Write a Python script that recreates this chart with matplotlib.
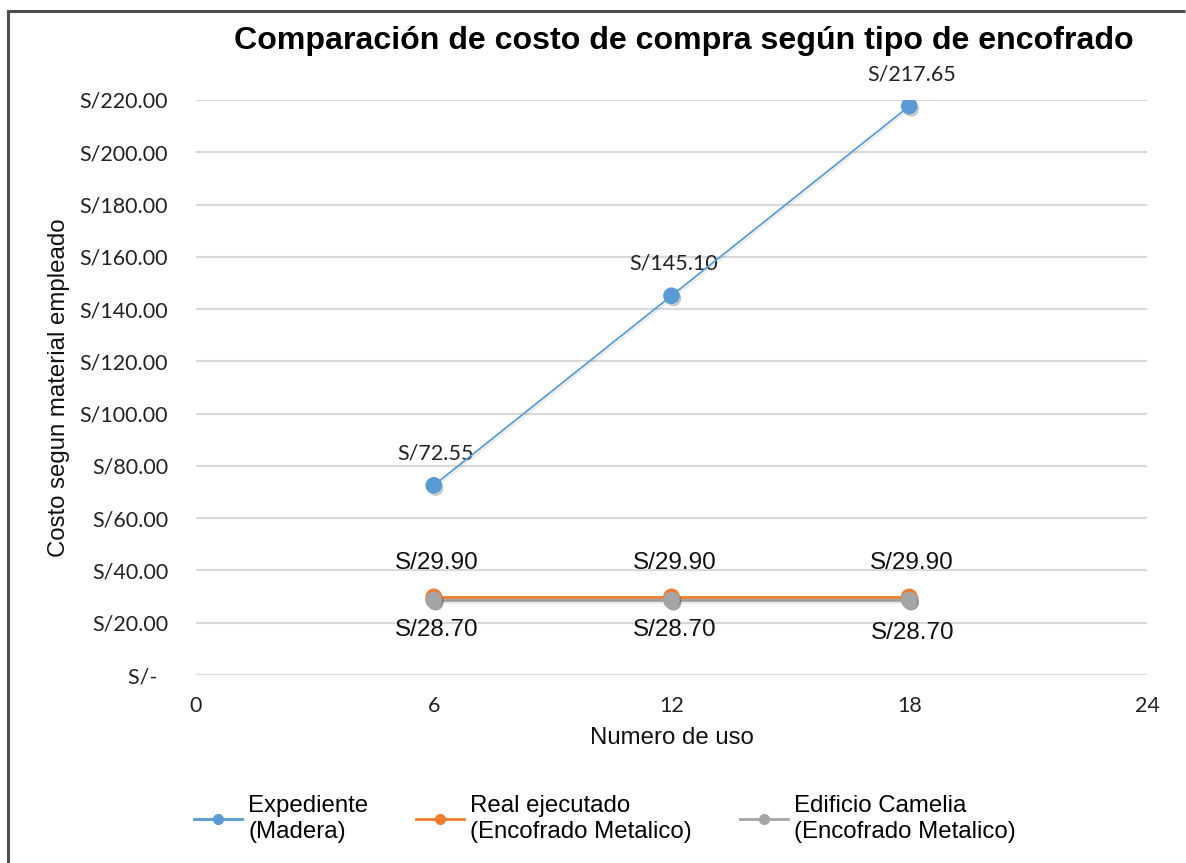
import matplotlib
matplotlib.use("Agg")
import matplotlib.pyplot as plt
import matplotlib.patheffects as pe
from matplotlib.lines import Line2D
from matplotlib.ticker import FuncFormatter, FixedLocator

# Data
usos = [6, 12, 18]
expediente_madera = [72.55, 145.10, 217.65]
real_ejecutado = [29.90, 29.90, 29.90]
edificio_camelia = [28.70, 28.70, 28.70]

series_labels = ["Expediente\n(Madera)",
                 "Real ejecutado\n(Encofrado Metalico)",
                 "Edificio Camelia\n(Encofrado Metalico)"]
x_ticks = [0, 6, 12, 18, 24]
y_ticks = [0, 20, 40, 60, 80, 100, 120, 140, 160, 180, 200, 220]

title = "Comparación de costo de compra según tipo de encofrado"
x_label = "Numero de uso"
y_label = "Costo segun material empleado"

BLUE = "#5B9BD5"
ORANGE = "#ED7D31"
GRAY = "#A5A5A5"
ARIAL = "Liberation Sans"
CAL = "Lato"

W, H = 1186, 863
fig = plt.figure(figsize=(W / 100, H / 100), dpi=100)
fig.patch.set_facecolor("white")
fig.patch.set_linewidth(0)

# outer frame of the chart area: left and top edges
frame_x, frame_y = 8 / W, 1 - 11 / H
fig.add_artist(Line2D([frame_x, frame_x, 0.999], [0.0, frame_y, frame_y],
                      transform=fig.transFigure, color="#4d4d4d", linewidth=2.2,
                      solid_joinstyle="miter", solid_capstyle="butt"))

ax = fig.add_axes([196 / W, 1 - 675 / H, (1147 - 196) / W, (675 - 100) / H])
ax.set_xlim(0, 24)
ax.set_ylim(0, 220)
ax.xaxis.set_major_locator(FixedLocator(x_ticks))
ax.yaxis.set_major_locator(FixedLocator(y_ticks))
for s in ax.spines.values():
    s.set_visible(False)
ax.grid(axis="y", color="#d9d9d9", linewidth=1.5)
ax.set_axisbelow(True)
ax.tick_params(axis="both", length=0)
ax.tick_params(axis="y", pad=20)
ax.tick_params(axis="x", pad=15)


def money(v, _pos=None):
    if v == 0:
        return "S/-  "
    return f"S/{v:.2f}"


ax.yaxis.set_major_formatter(FuncFormatter(money))
for lab in ax.get_yticklabels() + ax.get_xticklabels():
    lab.set_fontfamily(CAL)
    lab.set_fontsize(15.5)
    lab.set_color("#222222")

shadow = [pe.SimpleLineShadow(offset=(1, -1.5), alpha=0.12, shadow_color="#555555"),
          pe.SimplePatchShadow(offset=(1.5, -2), alpha=0.25, shadow_rgbFace="#555555"),
          pe.Normal()]

ax.plot(usos, edificio_camelia, color=GRAY, linewidth=2, marker="o", markersize=11,
        zorder=3, path_effects=shadow)
ax.plot(usos, real_ejecutado, color=ORANGE, linewidth=2, marker="o", markersize=11,
        zorder=4, path_effects=shadow)
ax.plot(usos, edificio_camelia, linestyle="none", color=GRAY, marker="o", markersize=11,
        zorder=5, path_effects=shadow)
ax.plot(usos, expediente_madera, color=BLUE, linewidth=1.3, marker="o", markersize=11,
        zorder=4, path_effects=shadow)

px = 0.72  # points per pixel at 100 dpi
for x, y in zip(usos, expediente_madera):
    ax.annotate(f"S/{y:.2f}", (x, y), xytext=(2 * px, 32 * px), textcoords="offset points",
                ha="center", va="center", fontsize=15.5, fontfamily=CAL, color="#222222")
for x, y in zip(usos, real_ejecutado):
    ax.annotate(f"S/{y:.2f}", (x, y), xytext=(3 * px, 34 * px), textcoords="offset points",
                ha="center", va="center", fontsize=17.5, fontfamily=ARIAL, color="#111111")
for i, (x, y) in enumerate(zip(usos, edificio_camelia)):
    dy = 30 if i < 2 else 33
    ax.annotate(f"S/{y:.2f}", (x, y), xytext=(3 * px, -dy * px), textcoords="offset points",
                ha="center", va="center", fontsize=17.5, fontfamily=ARIAL, color="#111111")

ax.set_xlabel(x_label, fontfamily=ARIAL, fontsize=17.3, labelpad=8, color="#111111")
ax.set_ylabel(y_label, fontfamily=ARIAL, fontsize=17.3, labelpad=7, color="#111111")

fig.text(684 / W, 1 - 41 / H, title, ha="center", va="center",
         fontfamily=ARIAL, fontweight="bold", fontsize=23.1, color="#000000")

handles = [Line2D([], [], color=c, linewidth=2, marker="o", markersize=7)
           for c in (BLUE, ORANGE, GRAY)]
fig.legend(handles, series_labels, loc="center", ncol=3,
           bbox_to_anchor=(605 / W, 1 - 819 / H), frameon=False,
           prop={"family": ARIAL, "size": 17.3}, handlelength=2.0,
           handletextpad=0.25, columnspacing=2.0, labelspacing=0.2)

fig.savefig("out.png", dpi=100, facecolor="white")
